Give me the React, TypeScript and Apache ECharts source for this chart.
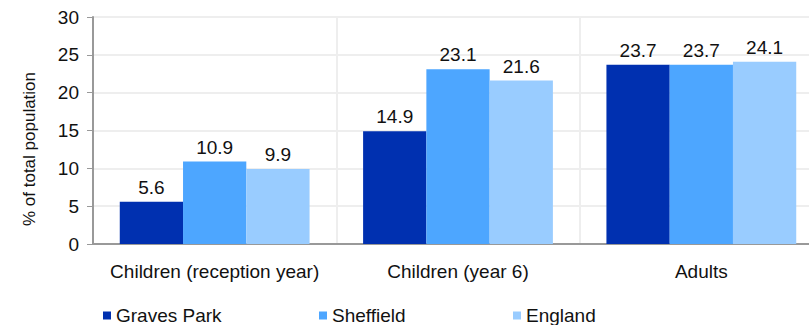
import React, { useEffect, useRef } from "react";
import * as echarts from "echarts";

const categories = ["Children (reception year)", "Children (year 6)", "Adults"];
const gravesPark = [5.6, 14.9, 23.7];
const sheffield = [10.9, 23.1, 23.7];
const england = [9.9, 21.6, 24.1];
const seriesNames = ["Graves Park", "Sheffield", "England"];
const colors = ["#0030b0", "#4da6ff", "#99ccff"];
const yAxisTitle = "% of total population";

export default function App() {
  const ref = useRef<HTMLDivElement>(null);
  useEffect(() => {
    if (!ref.current) return;
    const chart = echarts.init(ref.current, undefined, { renderer: "svg" });
    const font = "Liberation Sans, Arial, sans-serif";
    const fs = 19;
    const mk = (name: string, data: number[], color: string) => ({
      name,
      type: "bar",
      data,
      barGap: "0%",
      barCategoryGap: "22%",
      itemStyle: { color },
      label: {
        show: true,
        position: "top",
        distance: 5,
        color: "#111",
        fontSize: fs,
        fontFamily: font,
        formatter: (p: any) => p.value.toFixed(1),
      },
    });
    const legendAt = (name: string, left: number) => ({
      left,
      top: 306,
      padding: 0,
      itemWidth: 8,
      itemHeight: 8,
      icon: "rect",
      textStyle: { fontSize: fs, color: "#111", fontFamily: font },
      data: [name],
    });
    chart.setOption({
      animation: false,
      textStyle: { fontFamily: font },
      grid: { left: 93, top: 17, right: 17, height: 227, containLabel: false },
      legend: [
        legendAt(seriesNames[0], 103),
        legendAt(seriesNames[1], 319),
        legendAt(seriesNames[2], 513),
      ],
      graphic: [
        {
          type: "text",
          x: 29,
          y: 149,
          rotation: Math.PI / 2,
          style: {
            text: yAxisTitle,
            fontSize: 17,
            fontFamily: font,
            fill: "#111",
            align: "center",
            verticalAlign: "middle",
          },
        },
      ],
      xAxis: {
        type: "category",
        data: categories,
        axisLine: { lineStyle: { color: "#999", width: 2 } },
        axisTick: { show: false },
        splitLine: { show: true, lineStyle: { color: "#eee", width: 2 } },
        axisLabel: { interval: 0, fontSize: fs, color: "#111", margin: 18, fontFamily: font },
      },
      yAxis: {
        type: "value",
        min: 0,
        max: 30,
        interval: 5,
        axisLine: { show: true, lineStyle: { color: "#999", width: 2 } },
        axisTick: { show: true, length: 6, lineStyle: { color: "#999" } },
        splitLine: { lineStyle: { color: "#eee", width: 2 } },
        axisLabel: { fontSize: fs, color: "#111", margin: 14, fontFamily: font },
      },
      series: [
        mk(seriesNames[0], gravesPark, colors[0]),
        mk(seriesNames[1], sheffield, colors[1]),
        mk(seriesNames[2], england, colors[2]),
      ],
    });
    return () => chart.dispose();
  }, []);
  return (
    <div style={{ position: "absolute", left: 0, top: 0, width: 809, height: 325, overflow: "hidden" }}>
      <div ref={ref} style={{ width: 840, height: 325 }} />
    </div>
  );
}
